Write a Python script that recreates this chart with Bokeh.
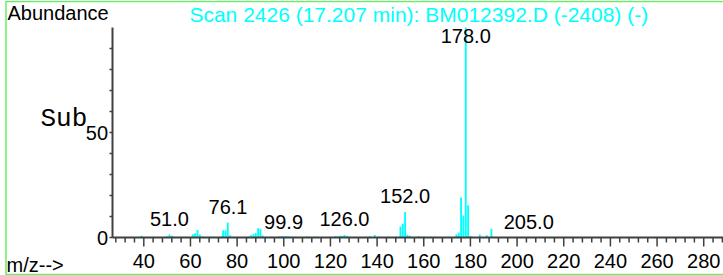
from bokeh.plotting import figure
from bokeh.models import Range1d, ColumnDataSource, BoxAnnotation
from bokeh.core.properties import value
from bokeh.embed import file_html
from bokeh.resources import INLINE

# ---- data ----
mz = [39, 44, 50, 51, 52, 53, 56, 57, 58, 60, 61, 62, 63, 64, 65, 66, 68, 69, 70, 72, 73,
      74, 75, 76, 77, 78, 80, 84, 85, 86, 87, 88, 89, 90, 91, 92, 94, 95, 98, 99, 100, 101,
      102, 104, 105, 108, 110, 111, 113, 114, 120, 122, 123, 124, 125, 126, 127, 128, 131,
      135, 137, 139, 141, 145, 148, 150, 151, 152, 153, 154, 157, 158, 160, 163, 165, 171,
      174, 175, 176, 177, 178, 179, 180, 184, 187, 189, 205, 208, 221]
intensity = [0.8, 0.4, 0.6, 1.4, 0.8, 0.4, 0.3, 0.4, 0.3, 0.4, 1.5, 2.0, 3.6, 1.4, 0.5, 0.3,
             0.3, 0.3, 0.3, 0.3, 0.5, 3.5, 3.5, 7.2, 1.1, 0.4, 0.4, 0.3, 0.5, 1.1, 1.6, 2.2,
             4.4, 4.0, 1.0, 0.3, 0.3, 0.5, 0.6, 0.7, 0.6, 0.6, 0.6, 0.3, 0.3, 0.4, 0.5, 0.4,
             0.4, 0.3, 0.3, 0.6, 0.6, 0.8, 0.7, 1.2, 0.8, 0.4, 0.3, 0.4, 0.6, 1.2, 0.3, 0.3,
             0.5, 5.2, 6.6, 12.1, 1.3, 0.8, 0.4, 0.6, 0.6, 0.3, 0.3, 0.4, 1.6, 2.4, 19.0,
             10.5, 100.0, 15.3, 0.8, 1.4, 1.1, 4.2, 0.3, 0.3, 0.4]
peak_labels = ["51.0", "76.1", "99.9", "126.0", "152.0", "178.0", "205.0"]
peak_label_mz = [51.0, 76.1, 99.9, 126.0, 152.0, 178.0, 205.0]
peak_label_int = [1.4, 7.2, 0.0, 1.5, 12.1, 100.0, 0.0]
x_ticks = list(range(40, 281, 20))
x_minor = [m for m in range(28, 289, 4) if m not in x_ticks]
y_ticks = [0, 50]
y_minor = [10, 20, 30, 40, 60, 70, 80, 90]
y_axis_max = 100
title_text = "Scan 2426 (17.207 min): BM012392.D (-2408) (-)"
y_label_text = "Abundance"
x_label_text = "m/z-->"
sub_text = "Sub"

# ---- layout (page px == canvas px) ----
W, H = 723, 275
PXU = 2.333                 # px per m/z unit
PYU = 2.1                   # px per % abundance
X40_PX, Y0_PX = 143.3, 237.0
X_AXIS_PX = 112             # left end of x axis / position of y axis

XR0 = 40 - X40_PX / PXU
XR1 = 40 + (W - X40_PX) / PXU
YR0 = -(H - Y0_PX) / PYU
YR1 = Y0_PX / PYU

def dx(px):
    return XR0 + px / PXU

def dy(py):
    return YR1 - py / PYU

FONT = "Liberation Sans"
CYAN = "#00FFFF"
AXC = "#404040"
GREEN = "#66EE66"

p = figure(width=W, height=H, output_backend="svg", toolbar_location=None,
           x_range=Range1d(XR0, XR1), y_range=Range1d(YR0, YR1),
           x_axis_type=None, y_axis_type=None, min_border=0)
p.outline_line_color = None
p.xgrid.visible = False
p.ygrid.visible = False
p.background_fill_color = "white"
p.border_fill_color = "white"

# green frame
p.add_layout(BoxAnnotation(left=dx(5.5), right=dx(W + 20), top=dy(1.0), bottom=dy(274),
                           fill_alpha=0, line_color=GREEN, line_alpha=1.0,
                           line_width=1.5))

# spectrum bars
src = ColumnDataSource(dict(mz=mz, intensity=intensity))
p.vbar(x="mz", top="intensity", bottom=0, width=0.8, source=src,
       fill_color=CYAN, line_color=None)

# axes
x0 = dx(X_AXIS_PX)
p.segment(x0=[x0], y0=[0], x1=[XR1], y1=[0], line_color=AXC, line_width=2)
p.segment(x0=[x0], y0=[0], x1=[x0], y1=[y_axis_max], line_color=AXC, line_width=2)
p.segment(x0=x_ticks, y0=[0] * len(x_ticks), x1=x_ticks, y1=[-9 / PYU] * len(x_ticks),
          line_color=AXC, line_width=1.5)
p.segment(x0=x_minor, y0=[0] * len(x_minor), x1=x_minor, y1=[-5 / PYU] * len(x_minor),
          line_color=AXC, line_width=1.5)
yt = y_ticks + y_minor
p.segment(x0=[x0] * len(yt), y0=yt, x1=[x0 - 3 / PXU] * len(yt), y1=yt,
          line_color=AXC, line_width=1.5)

TXT = dict(text_font=value(FONT), text_font_size=value("20px"), text_color="black")

# tick labels
p.text(x=x_ticks, y=[dy(253.7)] * len(x_ticks), text=[str(t) for t in x_ticks],
       text_align="center", text_baseline="top", **TXT)
p.text(x=[dx(107.5)] * len(y_ticks), y=y_ticks, text=[str(t) for t in y_ticks],
       text_align="right", text_baseline="middle", **TXT)

# peak labels (placed just above their peaks; the base peak label sits under the top)
lab_y = [dy(28.7) if i > 90 else i + (5.5 + 14.3 + 3.0) / PYU for i in peak_label_int]
p.text(x=peak_label_mz, y=lab_y, text=peak_labels, text_align="center",
       text_baseline="top", **TXT)

# other texts
p.text(x=[dx(7)], y=[dy(1.2)], text=[y_label_text], text_align="left",
       text_baseline="top", **TXT)
p.text(x=[dx(418.3)], y=[dy(2.8)], text=[title_text], text_font=value(FONT),
       text_font_size=value("21px"), text_color=CYAN, text_align="center",
       text_baseline="top")
p.text(x=[dx(6)], y=[dy(253.7)], text=[x_label_text], text_align="left",
       text_baseline="top", **TXT)
p.text(x=[dx(40)], y=[dy(103.8)], text=[sub_text], text_font=value("Liberation Mono"),
       text_font_size=value("26px"), text_color="black", text_align="left",
       text_baseline="top")

open("out.html", "w").write(file_html(p, INLINE))
